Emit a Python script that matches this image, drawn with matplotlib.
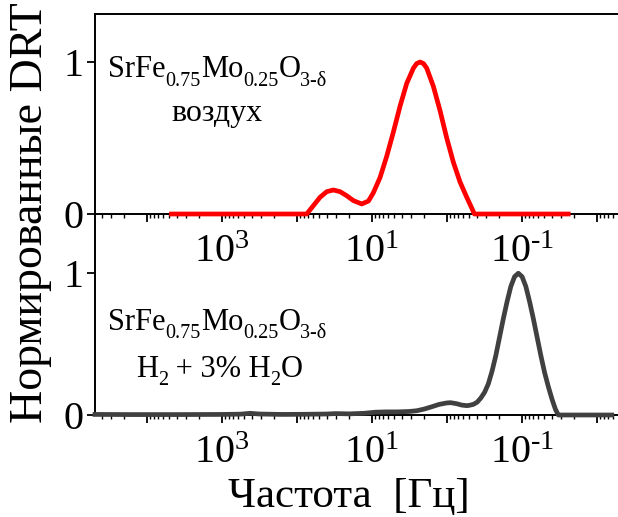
import numpy as np
import matplotlib
matplotlib.use('Agg')
import matplotlib.pyplot as plt
from matplotlib.ticker import FixedLocator, FuncFormatter, NullFormatter

# DRT curves: log10(frequency / Hz) and normalised DRT
air_logf = [3.67, 1.867, 1.778, 1.689, 1.600, 1.511, 1.422, 1.333, 1.244, 1.133,
            1.044, 0.978, 0.889, 0.800, 0.711, 0.622, 0.533, 0.444, 0.40, 0.355,
            0.31, 0.267, 0.178, 0.089, 0.0, -0.089, -0.178, -0.267, -0.333, -0.369, -1.62]
air_drt = [0.0, 0.0, 0.055, 0.11, 0.147, 0.158, 0.147, 0.12, 0.088, 0.066,
           0.085, 0.14, 0.24, 0.38, 0.54, 0.71, 0.86, 0.96, 0.99, 1.0,
           0.99, 0.96, 0.84, 0.68, 0.50, 0.34, 0.21, 0.11, 0.04, 0.0, 0.0]

h2_logf = [4.69, 4.2, 3.6, 3.0, 2.75, 2.62, 2.5, 2.2, 1.9, 1.6, 1.48, 1.3, 1.1, 0.95,
           0.8, 0.65, 0.5, 0.4, 0.3, 0.2, 0.1, 0.0, -0.05, -0.13, -0.2, -0.267, -0.3,
           -0.355, -0.405, -0.455, -0.505, -0.555, -0.605, -0.655, -0.705, -0.755,
           -0.805, -0.855, -0.905, -0.955, -1.005, -1.055, -1.105, -1.155, -1.205,
           -1.255, -1.305, -1.355, -1.405, -1.45, -1.488, -2.2]
h2_drt = [0.004, 0.003, 0.003, 0.004, 0.006, 0.012, 0.007, 0.004, 0.005, 0.007, 0.01,
          0.008, 0.012, 0.02, 0.022, 0.022, 0.025, 0.03, 0.042, 0.058, 0.075, 0.085,
          0.087, 0.08, 0.07, 0.066, 0.068, 0.075, 0.09, 0.12, 0.16, 0.22, 0.31, 0.42,
          0.55, 0.68, 0.80, 0.907, 0.976, 1.0, 0.976, 0.907, 0.80, 0.68, 0.55, 0.42,
          0.30, 0.20, 0.11, 0.04, 0.0, 0.0]

decades = [5, 4, 3, 2, 1, 0, -1, -2, -3]
labelled = [3, 1, -1]

# text pieces: (string, is_subscript)
formula = [('SrFe', 0), ('0.75', 1), ('Mo', 0), ('0.25', 1), ('O', 0), ('3-\u03b4', 1)]
gas = [('H', 0), ('2', 1), (' + 3% H', 0), ('2', 1), ('O', 0)]

plt.rcParams['font.family'] = 'Liberation Serif'
plt.rcParams['mathtext.fontset'] = 'custom'
plt.rcParams['mathtext.rm'] = 'Liberation Serif'
plt.rcParams['mathtext.it'] = 'Liberation Serif:italic'
plt.rcParams['mathtext.bf'] = 'Liberation Serif:bold'

W, H = 618, 517
fig = plt.figure(figsize=(W / 100, H / 100), dpi=100)


def px_rect(x0, y0, x1, y1):
    return [x0 / W, 1 - y1 / H, (x1 - x0) / W, (y1 - y0) / H]


ax_top = fig.add_axes(px_rect(95, 14, 618, 214))
ax_bot = fig.add_axes(px_rect(95, 214, 618, 415))


def tick_fmt(v, pos):
    e = int(round(np.log10(v)))
    if e not in labelled:
        return ''
    return '10$^{\\mathrm{%s}}$' % str(e).replace('-', '\u2010')


minor = [m * 10.0 ** d for d in decades for m in range(2, 10)]

for ax, ymax in [(ax_top, 1.316), (ax_bot, 1.418)]:
    ax.set_facecolor('none')
    ax.set_xscale('log')
    ax.set_xlim(10 ** 4.69, 10 ** -2.284)
    ax.set_ylim(0, ymax)
    ax.xaxis.set_major_locator(FixedLocator([10.0 ** d for d in decades]))
    ax.xaxis.set_major_formatter(FuncFormatter(tick_fmt))
    ax.xaxis.set_minor_locator(FixedLocator(minor))
    ax.xaxis.set_minor_formatter(NullFormatter())
    ax.set_yticks([0, 1])
    ax.set_yticklabels(['0', '1'])
    ax.tick_params(axis='both', which='major', direction='out', length=5.5, width=1.3,
                   labelsize=29)
    ax.tick_params(axis='x', which='major', pad=9)
    ax.tick_params(axis='y', which='major', pad=3)
    ax.tick_params(axis='x', which='minor', direction='out', length=3.2, width=1.0)
    ax.spines['right'].set_visible(False)
    for s in ax.spines.values():
        s.set_linewidth(1.4)

ax_bot.spines['top'].set_visible(False)

ax_top.plot(10 ** np.array(air_logf), air_drt, color='#ff0000', lw=3.4,
            clip_on=False, zorder=3, solid_joinstyle='round')
ax_bot.plot(10 ** np.array(h2_logf), h2_drt, color='#404040', lw=3.4,
            clip_on=False, zorder=3, solid_joinstyle='round')


def chem_text(ax, x, y, parts, size=22, sub_size=14.5, drop=4.8):
    # write the pieces one after another, subscripts lowered by `drop` points
    prev = ax.text(x, y, parts[0][0], transform=ax.transAxes, fontsize=size,
                   ha='left', va='baseline')
    prev_sub = parts[0][1]
    for s, sub in parts[1:]:
        dy = 0
        if sub and not prev_sub:
            dy = -drop
        elif prev_sub and not sub:
            dy = drop
        prev = ax.annotate(s, xy=(1, 0), xycoords=prev, xytext=(0, dy),
                           textcoords='offset points', fontsize=sub_size if sub else size,
                           ha='left', va='bottom')
        prev_sub = sub


chem_text(ax_top, 0.025, 0.685, formula)
ax_top.text(0.233, 0.465, 'воздух', transform=ax_top.transAxes, fontsize=23,
            ha='center', va='baseline')
chem_text(ax_bot, 0.025, 0.424, formula)
chem_text(ax_bot, 0.078, 0.19, gas)

fig.text(31 / W, 1 - 213 / H, 'Нормированные DRT', rotation=90, fontsize=33,
         ha='center', va='center')
fig.text(349 / W, 1 - 507 / H, 'Частота  [Гц]', fontsize=31, ha='center', va='baseline')

fig.savefig('out.png', dpi=100)
